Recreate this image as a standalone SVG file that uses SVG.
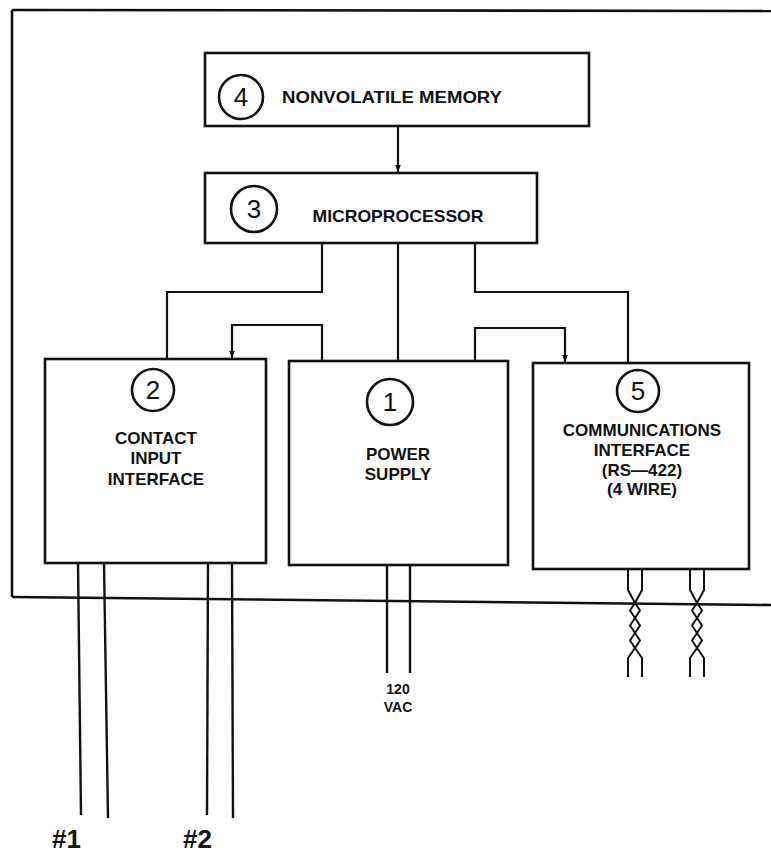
<svg xmlns="http://www.w3.org/2000/svg" width="771" height="853" viewBox="0 0 771 853">
<style>
.box{fill:none;stroke:#111;stroke-width:2.6}
.ln{fill:none;stroke:#111;stroke-width:2.2;stroke-linecap:square}
.wire{fill:none;stroke:#111;stroke-width:2.4}
.tw{fill:none;stroke:#111;stroke-width:2;stroke-linejoin:round}
.circ{fill:none;stroke:#111;stroke-width:2.6}
.num{font-family:"Liberation Sans","DejaVu Sans",sans-serif;font-size:26px;fill:#111;text-anchor:middle}
.lbl{font-family:"Liberation Sans","DejaVu Sans",sans-serif;font-size:17px;font-weight:bold;fill:#111;text-anchor:middle}
.sm{font-family:"Liberation Sans","DejaVu Sans",sans-serif;font-size:14px;font-weight:bold;fill:#111;text-anchor:middle}
.hand{font-family:"Liberation Sans","DejaVu Sans",sans-serif;font-size:26px;font-weight:bold;fill:#111}
</style>
<defs>
<marker id="arr" viewBox="0 0 10 10" refX="10" refY="5" markerWidth="7" markerHeight="7" markerUnits="userSpaceOnUse" orient="auto">
<path d="M0,1 L10,5 L0,9 Z" fill="#111"/>
</marker>
</defs>
<rect x="0" y="0" width="771" height="853" fill="#fff"/>

<g id="frame">
<line class="box" x1="12" y1="10" x2="771" y2="11"/>
<line class="box" x1="12" y1="10" x2="12" y2="597"/>
<line class="box" x1="12" y1="597" x2="771" y2="605"/>
</g>

<g id="connectors">
<path class="ln" d="M398,127 V172" marker-end="url(#arr)"/>
<path class="ln" d="M322,243 V292 H167 V358"/>
<path class="ln" d="M398,243 V360"/>
<path class="ln" d="M475,243 V292 H628 V362"/>
<path class="ln" d="M322,360 V325 H232 V358" marker-end="url(#arr)"/>
<path class="ln" d="M475,361 V328 H565 V362" marker-end="url(#arr)"/>
</g>

<g id="node4">
<rect class="box" x="205" y="53" width="384" height="73"/>
<circle class="circ" cx="241" cy="97" r="22"/>
<text class="num" x="241" y="106">4</text>
<text x="282" y="103" font-family="Liberation Sans, DejaVu Sans, sans-serif" font-size="16" font-weight="bold" fill="#111" textLength="220" lengthAdjust="spacingAndGlyphs">NONVOLATILE MEMORY</text>
</g>

<g id="node3">
<rect class="box" x="205" y="173" width="332" height="70"/>
<circle class="circ" cx="254" cy="209" r="23"/>
<text class="num" x="254" y="218">3</text>
<text class="lbl" x="398" y="222" textLength="171" lengthAdjust="spacingAndGlyphs">MICROPROCESSOR</text>
</g>

<g id="node2">
<rect class="box" x="45" y="359" width="221" height="204"/>
<circle class="circ" cx="153" cy="390" r="21"/>
<text class="num" x="153" y="399">2</text>
<text class="lbl" x="156" y="444">CONTACT</text>
<text class="lbl" x="156" y="464">INPUT</text>
<text class="lbl" x="156" y="485">INTERFACE</text>
</g>

<g id="node1">
<rect class="box" x="289" y="361" width="219" height="204"/>
<circle class="circ" cx="390" cy="402" r="23"/>
<text class="num" x="390" y="411">1</text>
<text class="lbl" x="398" y="460">POWER</text>
<text class="lbl" x="398" y="480">SUPPLY</text>
</g>

<g id="node5">
<rect class="box" x="533" y="363" width="216" height="206"/>
<circle class="circ" cx="638" cy="391" r="21"/>
<text class="num" x="638" y="400">5</text>
<text class="lbl" x="642" y="436">COMMUNICATIONS</text>
<text class="lbl" x="642" y="456">INTERFACE</text>
<text class="lbl" x="642" y="476">(RS—422)</text>
<text class="lbl" x="642" y="495">(4  WIRE)</text>
</g>

<g id="wires">
<line class="wire" x1="78" y1="563" x2="81" y2="815"/>
<line class="wire" x1="104" y1="563" x2="108" y2="818"/>
<line class="wire" x1="208" y1="563" x2="207" y2="815"/>
<line class="wire" x1="232" y1="563" x2="233" y2="818"/>
<line class="wire" x1="387" y1="565" x2="387" y2="673"/>
<line class="wire" x1="410" y1="565" x2="410" y2="673"/>
<path class="tw" d="M628,569 V590 L635,603 L640,610.5 L635,618 L630,625.5 L635,633 L640,640.5 L635,648 L628,658 V677"/>
<path class="tw" d="M642,569 V590 L635,603 L630,610.5 L635,618 L640,625.5 L635,633 L630,640.5 L635,648 L642,658 V677"/>
<path class="tw" d="M690,569 V590 L697,603 L702,610.5 L697,618 L692,625.5 L697,633 L702,640.5 L697,648 L690,658 V677"/>
<path class="tw" d="M704,569 V590 L697,603 L692,610.5 L697,618 L702,625.5 L697,633 L692,640.5 L697,648 L704,658 V677"/>
</g>

<g id="labels">
<text class="sm" x="398" y="694">120</text>
<text class="sm" x="398" y="712">VAC</text>
<text class="hand" x="52" y="848">#1</text>
<text class="hand" x="183" y="848">#2</text>
</g>
</svg>
